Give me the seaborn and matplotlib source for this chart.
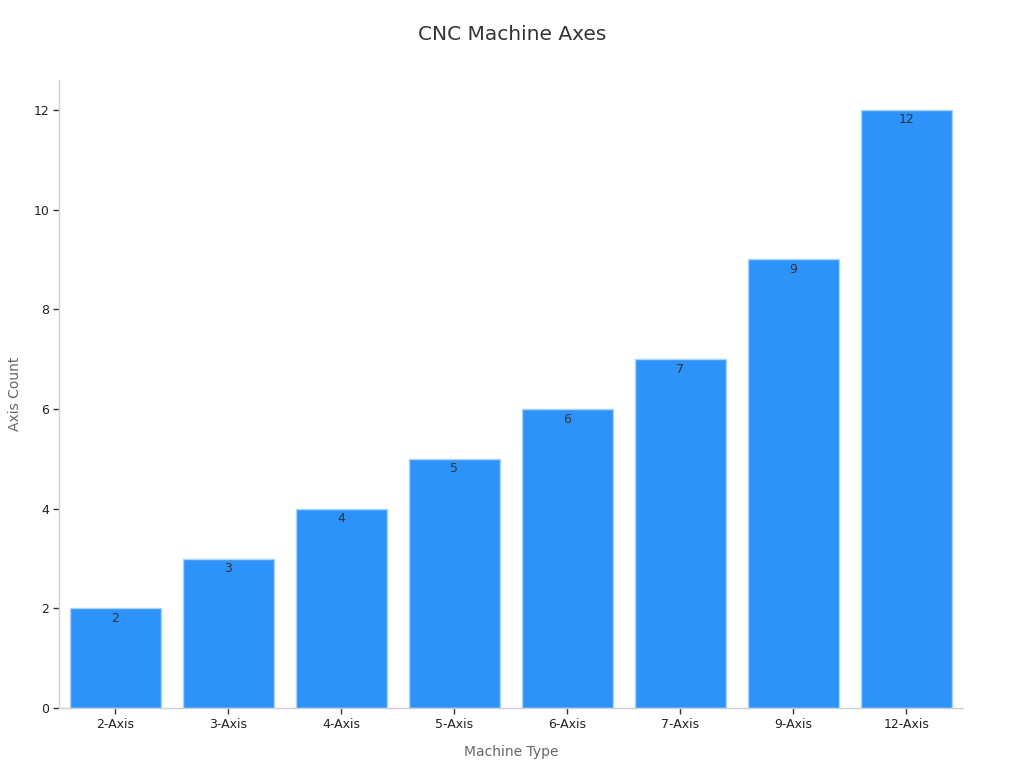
import seaborn as sns
import pandas as pd
import matplotlib.pyplot as plt

sns.set_theme(style="white")
plt.rcParams['font.family'] = ['DejaVu Sans']

# data
machine_types = ["2-Axis", "3-Axis", "4-Axis", "5-Axis", "6-Axis", "7-Axis", "9-Axis", "12-Axis"]
axis_counts = [2, 3, 4, 5, 6, 7, 9, 12]

df = pd.DataFrame({"Machine Type": machine_types, "Axis Count": axis_counts})

fig = plt.figure(figsize=(10.24, 7.68), dpi=100)
ax = fig.add_axes([0.0576, 0.078, 0.8828, 0.818])

sns.barplot(data=df, x="Machine Type", y="Axis Count", color="#2E93F8",
            saturation=1, width=0.8, edgecolor="#A9D3FB", linewidth=1, ax=ax)

for c in ax.containers:
    ax.bar_label(c, labels=[str(v) for v in axis_counts], padding=-12,
                 fontsize=9, color="#333333")

ax.set_xlim(-0.5, 7.5)
ax.set_ylim(0, 12.6)
ax.set_yticks([0, 2, 4, 6, 8, 10, 12])

for s in ["top", "right"]:
    ax.spines[s].set_visible(False)
for s in ["left", "bottom"]:
    ax.spines[s].set_color("#D0D0D0")
    ax.spines[s].set_linewidth(1)

ax.tick_params(axis="both", which="both", length=4, width=1, color="#333333",
               labelsize=9, labelcolor="#222222", bottom=True, left=True, pad=3)

ax.set_xlabel("Machine Type", fontsize=10, color="#666666", labelpad=10)
ax.set_ylabel("Axis Count", fontsize=10, color="#666666", labelpad=8)
fig.suptitle("CNC Machine Axes", fontsize=14.5, color="#333333", y=0.968)

fig.savefig("out.png", dpi=100)
